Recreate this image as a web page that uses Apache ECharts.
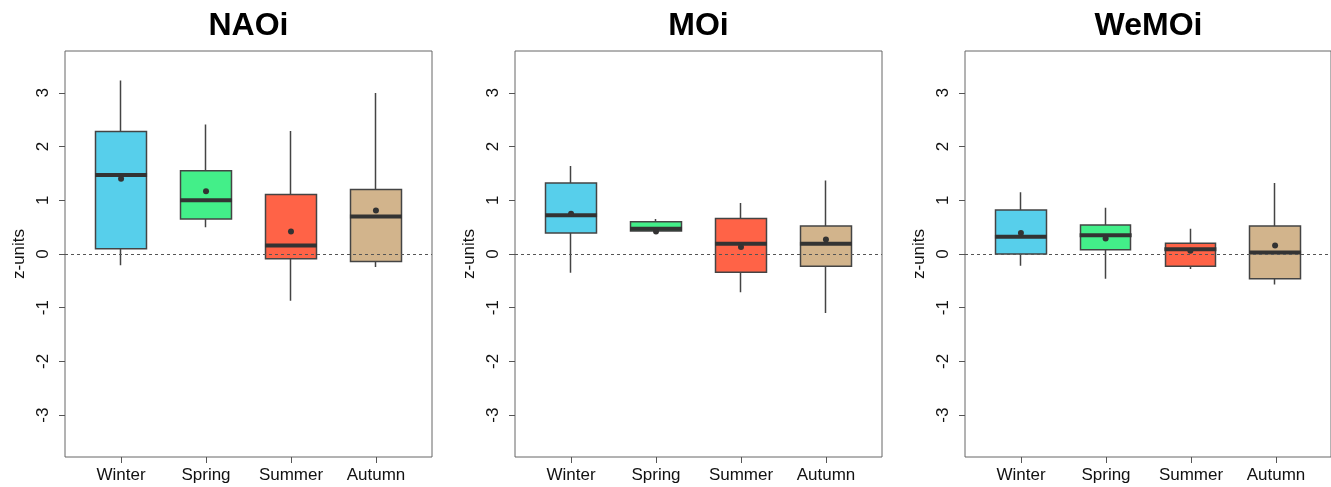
<!DOCTYPE html>
<html lang="en">
<head>
<meta charset="UTF-8" />
<title>Seasonal z-units</title>
<script src="https://cdn.jsdelivr.net/npm/echarts@6/dist/echarts.min.js"></script>
<style>
  html, body { margin: 0; padding: 0; background: #fff; }
</style>
</head>
<body>
<div id="chart" style="width: 1331px; height: 487px"></div>
<script>
  const seasons = ["Winter", "Spring", "Summer", "Autumn"];
  const panelNames = ["NAOi", "MOi", "WeMOi"];
  const seasonColors = ["#57CFEB", "#43EF89", "#FF6347", "#D2B48C"];
  const yTicks = [-3, -2, -1, 0, 1, 2, 3];

  // [lower whisker, Q1, median, Q3, upper whisker]
  const naoiStats = [
    [-0.21, 0.10, 1.47, 2.28, 3.23],
    [0.50, 0.65, 1.00, 1.55, 2.41],
    [-0.87, -0.09, 0.16, 1.11, 2.29],
    [-0.24, -0.14, 0.70, 1.20, 3.00]
  ];
  const naoiMeans = [1.40, 1.17, 0.42, 0.81];

  const moiStats = [
    [-0.35, 0.39, 0.72, 1.32, 1.64],
    [0.43, 0.43, 0.47, 0.60, 0.65],
    [-0.71, -0.34, 0.19, 0.66, 0.95],
    [-1.10, -0.23, 0.19, 0.52, 1.37]
  ];
  const moiMeans = [0.75, 0.42, 0.13, 0.27];

  const wemoiStats = [
    [-0.22, 0.00, 0.32, 0.82, 1.15],
    [-0.46, 0.08, 0.35, 0.54, 0.86],
    [-0.28, -0.23, 0.09, 0.20, 0.47],
    [-0.57, -0.46, 0.03, 0.52, 1.32]
  ];
  const wemoiMeans = [0.39, 0.29, 0.06, 0.16];

  const allStats = [naoiStats, moiStats, wemoiStats];
  const allMeans = [naoiMeans, moiMeans, wemoiMeans];

  const chart = echarts.init(document.getElementById("chart"));
  const font = "Liberation Sans, Arial, sans-serif";
  const panelLeft = [65, 515, 965];
  const plotW = 367;
  const bandW = 85; // one season per band

  const grid = [], xAxis = [], yAxis = [], series = [], title = [];

  panelNames.forEach(function (name, p) {
    const g = p * 2;
    // framed data grid
    grid.push({
      left: panelLeft[p], top: 51, width: plotW, height: 406,
      show: true, borderColor: "#666", borderWidth: 1, backgroundColor: "transparent"
    });
    // inner grid only used for the season axis
    grid.push({
      left: panelLeft[p] + (plotW - bandW * 4) / 2, top: 51, width: bandW * 4, height: 406
    });
    title.push({
      text: name, left: panelLeft[p] + plotW / 2, top: 10, textAlign: "center", padding: 0,
      textStyle: { fontFamily: font, fontSize: 32, fontWeight: "bold", color: "#000" }
    });

    xAxis.push({
      type: "value", gridIndex: g, min: 0.34, max: 4.66,
      axisLine: { show: false, onZero: false }, splitLine: { show: false },
      axisTick: { show: false }, axisLabel: { show: false }
    });
    xAxis.push({
      type: "category", gridIndex: g + 1, data: seasons, boundaryGap: true,
      axisLine: { show: false, onZero: false }, splitLine: { show: false },
      axisTick: { show: true, alignWithLabel: true, length: 6, lineStyle: { color: "#555", width: 1 } },
      axisLabel: { margin: 10, fontFamily: font, fontSize: 17, color: "#111", interval: 0 }
    });

    yAxis.push({
      type: "value", gridIndex: g, min: -3.78, max: 3.78,
      name: "z-units", nameLocation: "middle", nameRotate: 90, nameGap: 37,
      nameTextStyle: { fontFamily: font, fontSize: 17, color: "#111" },
      axisLine: { show: false, onZero: false }, splitLine: { show: false },
      axisTick: { show: true, customValues: yTicks, length: 6, lineStyle: { color: "#555", width: 1 } },
      axisLabel: {
        customValues: yTicks, rotate: 90, margin: 13, fontFamily: font, fontSize: 17, color: "#111"
      }
    });
    yAxis.push({
      type: "value", gridIndex: g + 1, min: -3.78, max: 3.78, show: false
    });

    const stats = allStats[p];
    series.push({
      type: "candlestick", xAxisIndex: g, yAxisIndex: g, barWidth: 51, z: 2,
      data: stats.map(function (s, i) {
        return {
          value: [i + 1, s[1], s[3], s[0], s[4]],
          itemStyle: {
            color: seasonColors[i], color0: seasonColors[i],
            borderColor: "#444", borderColor0: "#444", borderWidth: 1.5
          }
        };
      })
    });
    series.push({
      type: "scatter", xAxisIndex: g, yAxisIndex: g, z: 3,
      symbol: "rect", symbolSize: [52, 4],
      itemStyle: { color: "#333", opacity: 1 },
      data: stats.map(function (s, i) { return [i + 1, s[2]]; })
    });
    series.push({
      type: "scatter", xAxisIndex: g, yAxisIndex: g, z: 4,
      symbol: "circle", symbolSize: 6,
      itemStyle: { color: "#333", opacity: 1 },
      data: allMeans[p].map(function (m, i) { return [i + 1, m]; }),
      markLine: {
        silent: true, symbol: "none", label: { show: false },
        lineStyle: { type: [3, 3], color: "#555", width: 1 },
        data: [{ yAxis: 0 }]
      }
    });
  });

  chart.setOption({
    animation: false,
    backgroundColor: "#fff",
    title: title,
    grid: grid,
    xAxis: xAxis,
    yAxis: yAxis,
    series: series
  });
</script>
</body>
</html>
